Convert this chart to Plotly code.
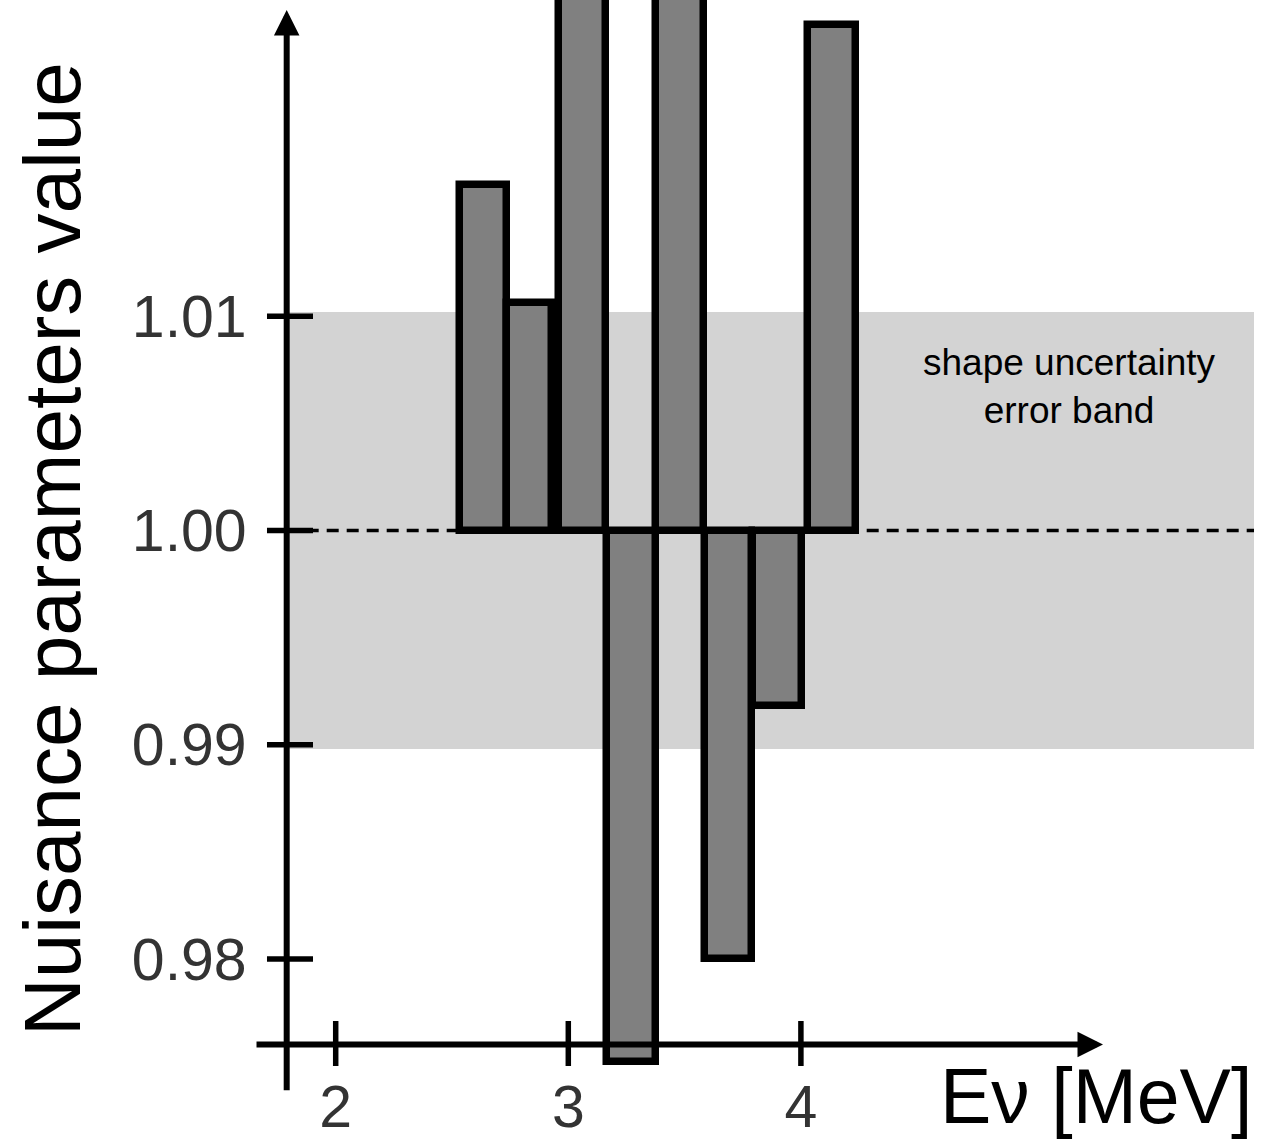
import plotly.graph_objects as go

# ---- data ----
bin_lo = [2.534, 2.736, 2.958, 3.166, 3.377, 3.586, 3.794, 4.031]
bin_hi = [2.736, 2.928, 3.162, 3.375, 3.583, 3.790, 4.003, 4.235]
nuisance = [1.0161, 1.0106, 1.0300, 0.9752, 1.0300, 0.9800, 0.9918, 1.0236]
x_ticks = [2, 3, 4]
y_ticks = [0.98, 0.99, 1.00, 1.01]
y_tick_text = ["0.98", "0.99", "1.00", "1.01"]
band_lo, band_hi = 0.9898, 1.0102
nominal = 1.0

FONT = "Liberation Sans, Arial, Helvetica, sans-serif"

# axis geometry (data units)
X_RANGE = [0.55675, 5.99097]
Y_RANGE = [0.971605, 1.024755]
yaxis_x = 1.7893
xaxis_y = 0.976015

centers = [(a + b) / 2 for a, b in zip(bin_lo, bin_hi)]
widths = [b - a for a, b in zip(bin_lo, bin_hi)]

fig = go.Figure()
fig.add_trace(go.Bar(
    x=centers, y=[v - nominal for v in nuisance], base=nominal, width=widths,
    marker=dict(color="#808080", line=dict(color="black", width=7.5)),
    showlegend=False, hoverinfo="skip",
))

shapes = []
# error band
shapes.append(dict(type="rect", xref="x", yref="y", x0=yaxis_x, x1=5.948,
                   y0=band_lo, y1=band_hi, fillcolor="#d3d3d3", line=dict(width=0),
                   layer="below"))
# dashed nominal line
shapes.append(dict(type="line", xref="x", yref="y", x0=yaxis_x, x1=5.948,
                   y0=nominal, y1=nominal, line=dict(color="black", width=3.5, dash="12px,8px"),
                   layer="below"))
# tick marks
for t in y_ticks:
    shapes.append(dict(type="line", xref="x", yref="y", x0=1.7046, x1=1.9024, y0=t, y1=t,
                       line=dict(color="black", width=5.5), layer="above"))
for t in x_ticks:
    shapes.append(dict(type="line", xref="x", yref="y", x0=t, x1=t, y0=0.975011, y1=0.977111,
                       line=dict(color="black", width=5.5), layer="above"))

annotations = [
    # y axis arrow
    dict(x=yaxis_x, y=1.024289, ax=yaxis_x, ay=0.973812, xref="x", yref="y",
         axref="x", ayref="y", text="", showarrow=True, arrowhead=2, arrowsize=0.85,
         arrowwidth=6, arrowcolor="black"),
    # x axis arrow
    dict(x=5.2988, y=xaxis_y, ax=1.6531, ay=xaxis_y, xref="x", yref="y",
         axref="x", ayref="y", text="", showarrow=True, arrowhead=2, arrowsize=0.85,
         arrowwidth=6, arrowcolor="black"),
    # band label
    dict(x=2 + (1069 - 335.7) / 232.6, y=1 + (530.5 - 386) / 21430, xref="x", yref="y",
         text="shape uncertainty<br>error band",
         showarrow=False, font=dict(family=FONT, size=37, color="black")),
    # axis titles
    dict(x=52 / 1264, y=1 - 549 / 1139, xref="paper", yref="paper",
         text="Nuisance parameters value", textangle=-90, showarrow=False,
         xanchor="center", yanchor="middle",
         font=dict(family=FONT, size=80, color="black")),
    dict(x=1254 / 1264, y=1 - 1096 / 1139, xref="paper", yref="paper",
         text="Eν [MeV]", showarrow=False, xanchor="right", yanchor="middle",
         font=dict(family=FONT, size=77, color="black")),
]

fig.update_layout(
    width=1264, height=1139, margin=dict(l=0, r=0, t=0, b=0),
    paper_bgcolor="white", plot_bgcolor="white",
    template="none",
    shapes=shapes, annotations=annotations,
    xaxis=dict(range=X_RANGE, showgrid=False, zeroline=False, showline=False,
               tickvals=x_ticks, ticktext=[str(t) for t in x_ticks], ticks="",
               anchor="free", position=(1139 - 1044.5) / 1139, automargin=False,
               ticklabelstandoff=22,
               tickfont=dict(family=FONT, size=59, color="#333333"), fixedrange=True),
    yaxis=dict(range=Y_RANGE, showgrid=False, zeroline=False, showline=False,
               tickvals=y_ticks, ticktext=y_tick_text, ticks="",
               anchor="free", position=286.7 / 1264, automargin=False,
               ticklabelstandoff=40,
               tickfont=dict(family=FONT, size=59, color="#333333"), fixedrange=True),
    bargap=0,
)

fig.write_html("out.html")
